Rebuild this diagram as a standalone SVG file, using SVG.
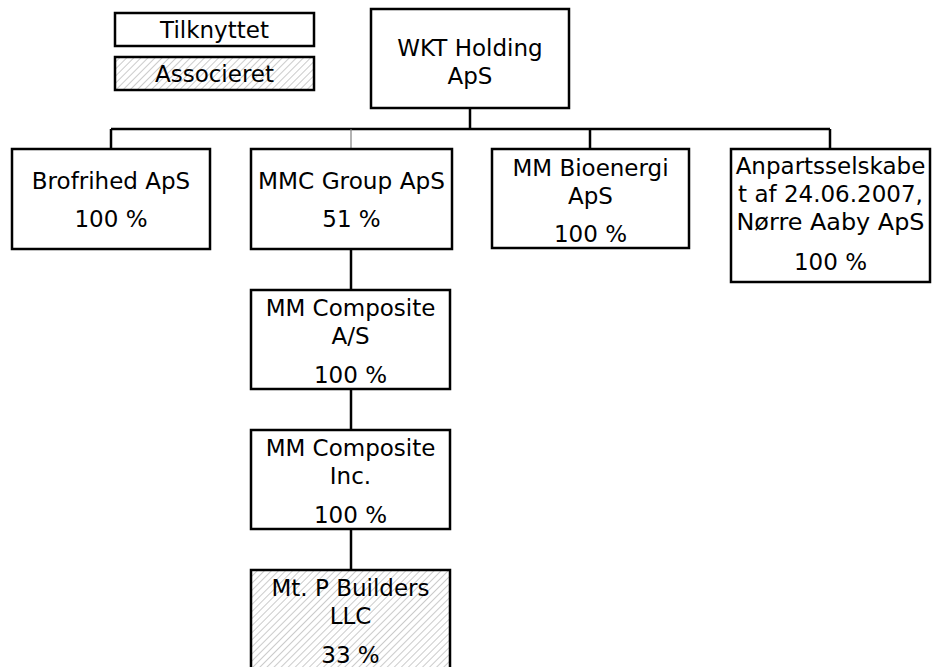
<svg xmlns="http://www.w3.org/2000/svg" width="932" height="667" viewBox="0 0 932 667">
<defs>
<pattern id="hatch" patternUnits="userSpaceOnUse" width="5" height="5" patternTransform="rotate(45)">
<rect width="5" height="5" fill="#ffffff"/>
<line x1="0" y1="0" x2="0" y2="5" stroke="#a8a8a8" stroke-width="1.2"/>
</pattern>
</defs>
<style>
.box{fill:#ffffff;stroke:#000000;stroke-width:2.5}
.assoc{fill:url(#hatch);stroke:#000000;stroke-width:2.5}
.t{font-family:"DejaVu Sans",sans-serif;font-size:23px;fill:#000000;text-anchor:middle}
.c{fill:none;stroke:#000000;stroke-width:2.5}
.cg{fill:none;stroke:#808080;stroke-width:1.2}
</style>
<g id="connectors">
<line class="c" x1="470" y1="108" x2="470" y2="129"/>
<line class="c" x1="111" y1="129" x2="830" y2="129"/>
<line class="c" x1="111" y1="129" x2="111" y2="149"/>
<line class="cg" x1="351" y1="129" x2="351" y2="149"/>
<line class="c" x1="590" y1="129" x2="590" y2="149"/>
<line class="c" x1="830" y1="129" x2="830" y2="149"/>
<line class="c" x1="351" y1="249" x2="351" y2="290"/>
<line class="c" x1="351" y1="389" x2="351" y2="430"/>
<line class="c" x1="351" y1="529" x2="351" y2="570"/>
</g>
<g id="legend-tilknyttet">
<rect class="box" x="115" y="13" width="199" height="33"/>
<text class="t" x="214.5" y="38">Tilknyttet</text>
</g>
<g id="legend-associeret">
<rect class="assoc" x="115" y="57" width="199" height="33"/>
<text class="t" x="214.5" y="82">Associeret</text>
</g>
<g id="wkt">
<rect class="box" x="371" y="9" width="198" height="99"/>
<text class="t" x="470" y="56">WKT Holding</text>
<text class="t" x="470" y="84">ApS</text>
</g>
<g id="brofrihed">
<rect class="box" x="12" y="149" width="198" height="100"/>
<text class="t" x="111" y="189">Brofrihed ApS</text>
<text class="t" x="111" y="227">100 %</text>
</g>
<g id="mmc">
<rect class="box" x="251" y="149" width="201" height="100"/>
<text class="t" x="351.5" y="189" textLength="187" lengthAdjust="spacingAndGlyphs">MMC Group ApS</text>
<text class="t" x="351.5" y="227">51 %</text>
</g>
<g id="bioenergi">
<rect class="box" x="492" y="149" width="197" height="99"/>
<text class="t" x="590.5" y="176">MM Bioenergi</text>
<text class="t" x="590.5" y="204">ApS</text>
<text class="t" x="590.5" y="242">100 %</text>
</g>
<g id="anparts">
<rect class="box" x="731" y="149" width="199" height="133"/>
<text class="t" x="830.5" y="174">Anpartsselskabe</text>
<text class="t" x="830.5" y="202">t af 24.06.2007,</text>
<text class="t" x="830.5" y="230" textLength="188" lengthAdjust="spacingAndGlyphs">Nørre Aaby ApS</text>
<text class="t" x="830.5" y="270">100 %</text>
</g>
<g id="composite-as">
<rect class="box" x="251" y="290" width="199" height="99"/>
<text class="t" x="350.5" y="316">MM Composite</text>
<text class="t" x="350.5" y="344">A/S</text>
<text class="t" x="350.5" y="383">100 %</text>
</g>
<g id="composite-inc">
<rect class="box" x="251" y="430" width="199" height="99"/>
<text class="t" x="350.5" y="456">MM Composite</text>
<text class="t" x="350.5" y="484">Inc.</text>
<text class="t" x="350.5" y="523">100 %</text>
</g>
<g id="mtp">
<rect class="assoc" x="251" y="570" width="199" height="99"/>
<text class="t" x="350.5" y="596">Mt. P Builders</text>
<text class="t" x="350.5" y="624">LLC</text>
<text class="t" x="350.5" y="663">33 %</text>
</g>
</svg>
